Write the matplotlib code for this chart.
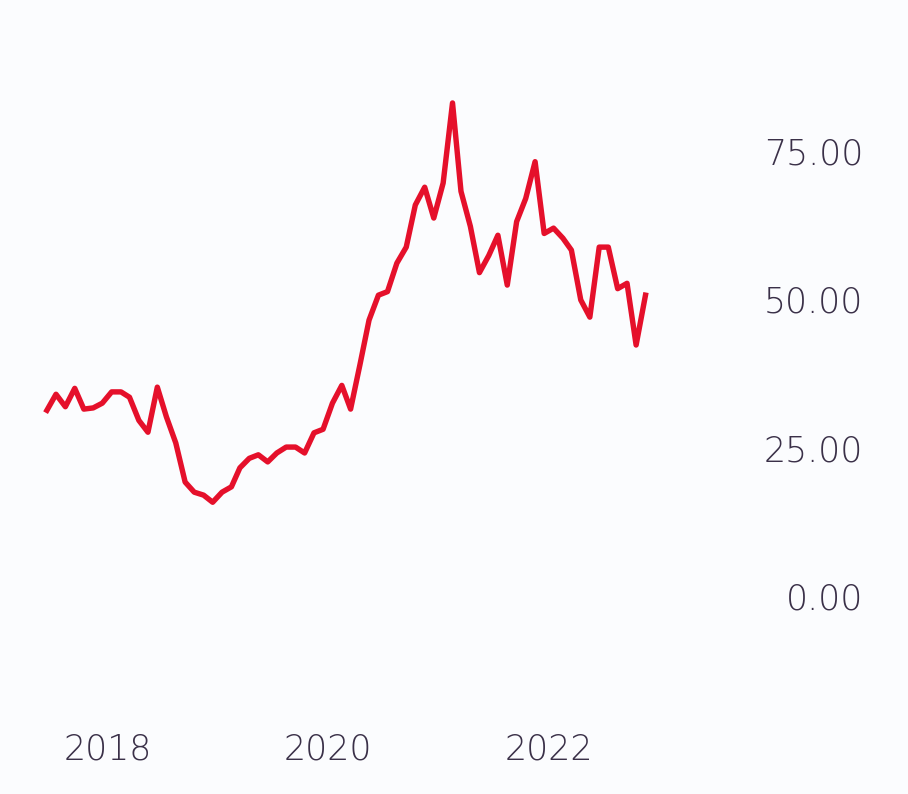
import pandas as pd
import matplotlib.pyplot as plt
import matplotlib.dates as mdates

# monthly series, Jun 2017 - Nov 2022
start_month = "2017-06-01"
values = [
    31.3, 34.0, 31.9, 35.0, 31.5, 31.7, 32.5, 34.4, 34.4, 33.5,
    29.6, 27.6, 35.2, 30.2, 25.8, 19.2, 17.5, 17.0, 15.8, 17.5,
    18.4, 21.6, 23.2, 23.8, 22.6, 24.1, 25.1, 25.1, 24.1, 27.5,
    28.1, 32.5, 35.5, 31.5, 39.0, 46.5, 50.7, 51.3, 56.1, 58.8,
    65.9, 68.9, 63.7, 69.6, 83.1, 68.2, 62.3, 54.5, 57.4, 60.8,
    52.4, 63.1, 67.0, 73.2, 61.1, 62.0, 60.3, 58.3, 49.9, 47.0,
    58.8, 58.8, 51.8, 52.7, 42.3, 50.7,
]
y_ticks = [0, 25, 50, 75]
year_ticks = ["2018-01-01", "2020-01-01", "2022-01-01"]

dates = pd.date_range(start_month, periods=len(values), freq="MS") + pd.Timedelta(days=14)

bg = "#fbfcfe"
text_color = "#3a3048"
plt.rcParams["font.family"] = ["DejaVu Sans"]

fig = plt.figure(figsize=(9.08, 7.94), dpi=100, facecolor=bg)
ax = fig.add_axes([20 / 908, 109 / 794, 725 / 908, 623 / 794], facecolor=bg)

ax.plot(dates, values, color="#e5102b", linewidth=3.9, solid_joinstyle="round")

ax.set_ylim(-15, 90)
ax.set_xlim(pd.Timestamp("2017-03-18"), pd.Timestamp("2023-10-10"))

ax.set_yticks(y_ticks)
ax.set_yticklabels([f"{v:.2f}" for v in y_ticks])
ax.yaxis.tick_right()
ax.set_xticks(pd.to_datetime(year_ticks))
ax.xaxis.set_major_formatter(mdates.DateFormatter("%Y"))

ax.tick_params(axis="y", length=0, pad=85, labelsize=25, labelcolor=text_color)
ax.tick_params(axis="x", length=0, pad=34, labelsize=25, labelcolor=text_color)
for lbl in ax.get_yticklabels() + ax.get_xticklabels():
    lbl.set_fontweight(200)
for lbl in ax.get_yticklabels():
    lbl.set_horizontalalignment("right")

for s in ax.spines.values():
    s.set_visible(False)

fig.savefig("out.png", dpi=100, facecolor=bg)
